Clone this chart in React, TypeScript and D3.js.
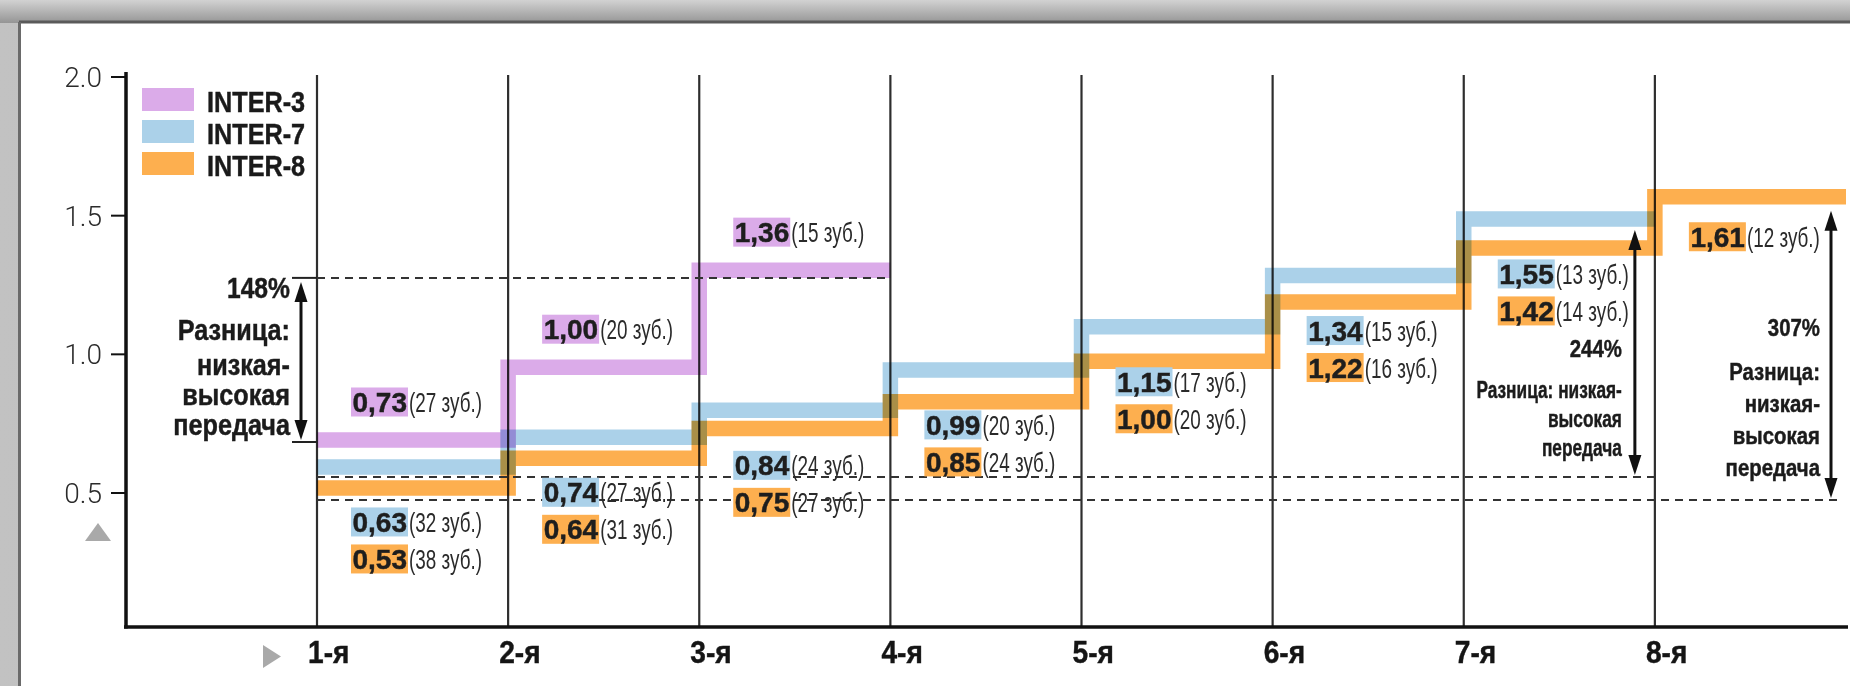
import React from "react";
import * as d3 from "d3";

// ---- data ----
const gearLabels = ["1-я", "2-я", "3-я", "4-я", "5-я", "6-я", "7-я", "8-я"];
const seriesNames = ["INTER-3", "INTER-7", "INTER-8"];
const inter3 = [0.73, 1.0, 1.36];
const inter3Teeth = [27, 20, 15];
const inter7 = [0.63, 0.74, 0.84, 0.99, 1.15, 1.34, 1.55];
const inter7Teeth = [32, 27, 24, 20, 17, 15, 13];
const inter8 = [0.53, 0.64, 0.75, 0.85, 1.0, 1.22, 1.42, 1.61];
const inter8Teeth = [38, 31, 27, 24, 20, 16, 14, 12];
const yTicks = [0.5, 1.0, 1.5, 2.0];
const spreadLabels = ["148%", "244%", "307%"];

const W = 1850;
const H = 686;
const FONT = "'Liberation Sans', Arial, Helvetica, sans-serif";
const COLORS = ["#dbabe9", "#abd1e9", "#fdaf4f"];

function T({ x, y, sx = 1, size, weight = 700, anchor = "start", fill = "#1b1b1b", family = FONT, children }: any) {
  const bold = weight >= 700;
  return (
    <text
      transform={`translate(${x},${y}) scale(${sx},1)`}
      fontFamily={family}
      fontSize={size}
      fontWeight={weight}
      textAnchor={anchor}
      fill={fill}
      stroke={bold ? fill : "none"}
      strokeWidth={bold ? 0.45 : 0}
    >
      {children}
    </text>
  );
}

function Arrow({ x, y1, y2 }: any) {
  const hw = 6.5;
  const hh = 20;
  return (
    <g>
      <line x1={x} x2={x} y1={y1 + hh - 2} y2={y2 - hh + 2} stroke="#111" strokeWidth={3} />
      <polygon points={`${x},${y1} ${x - hw},${y1 + hh} ${x + hw},${y1 + hh}`} fill="#111" />
      <polygon points={`${x},${y2} ${x - hw},${y2 - hh} ${x + hw},${y2 - hh}`} fill="#111" />
    </g>
  );
}

const fmt = (v: number) => d3.format(".2f")(v).replace(".", ",");

function ValueLabel({ x0, cy, value, teeth, color }: any) {
  const numW = 57;
  return (
    <g>
      <rect x={x0} y={cy - 14.5} width={numW} height={29} fill={color} />
      <T x={x0 + 1.5} y={cy + 10} size={28} fill="#1e1e1e">{fmt(value)}</T>
      <T x={x0 + numW + 1} y={cy + 10} size={27} weight={400} sx={0.7} fill="#2a2a2a">{`(${teeth} зуб.)`}</T>
    </g>
  );
}

export default function App() {
  const x = d3.scaleLinear().domain([1, 9]).range([317, 1846]);
  const yAxis = d3.scaleLinear().domain([0.5, 2]).range([493, 77]);
  const yBand = d3.scaleLinear().domain([0.5, 1.5]).range([502, 232.4]);
  const ORANGE_DY = -6;
  const BAND = 15.5;

  const series = [
    { name: seriesNames[0], vals: inter3, teeth: inter3Teeth, color: COLORS[0], dy: 0 },
    { name: seriesNames[1], vals: inter7, teeth: inter7Teeth, color: COLORS[1], dy: 0 },
    { name: seriesNames[2], vals: inter8, teeth: inter8Teeth, color: COLORS[2], dy: ORANGE_DY },
  ];

  const line = d3.line<[number, number]>().curve(d3.curveStepAfter);
  const stepPath = (vals: number[], dy: number) => {
    const pts: [number, number][] = vals.map((v, i) => [x(i + 1), yBand(v) + dy]);
    pts.push([x(vals.length + 1), yBand(vals[vals.length - 1]) + dy]);
    return line(pts) || "";
  };

  const axisX = 126;
  const axisY = 627;
  const gridTop = 75;

  const purpleDash = yBand(inter3[inter3.length - 1]) + BAND / 2;
  const upperDash = yBand(inter7[0]) + 10;
  const lowerDash = yBand(inter8[0]) + 6;

  // label positions
  const purpleY = (i: number) => yBand(inter3[i]) - 38;
  const blueY = (i: number) => yBand(inter7[i]) + 55;
  const orangeY = (i: number) => (i < inter7.length ? blueY(i) + 37 : yBand(inter8[i]) + ORANGE_DY + 40);

  const lx = x(1) - 27;
  const ax1 = x(1) - 16;
  const rx2 = x(8) - 33;
  const ax2 = x(8) - 20;
  const rx3 = x(9) - 26;
  const ax3 = x(9) - 15;

  return (
    <svg width={W} height={H} style={{ position: "absolute", left: 0, top: 0 }}>
      <defs>
        <linearGradient id="topg" x1="0" y1="0" x2="0" y2="1">
          <stop offset="0" stopColor="#d2d2d2" />
          <stop offset="1" stopColor="#959595" />
        </linearGradient>
        <linearGradient id="leftg" x1="0" y1="0" x2="1" y2="0">
          <stop offset="0" stopColor="#c2c2c2" />
          <stop offset="1" stopColor="#a2a2a2" />
        </linearGradient>
      </defs>
      {/* frame */}
      <rect x={0} y={0} width={W} height={H} fill="url(#leftg)" />
      <rect x={0} y={0} width={W} height={23} fill="url(#topg)" />
      <rect x={20} y={23} width={W - 20} height={H - 23} fill="#ffffff" />
      <line x1={19} x2={W} y1={22} y2={22} stroke="#5a5a5a" strokeWidth={3} />
      <line x1={19.5} x2={19.5} y1={22} y2={H} stroke="#6a6a6a" strokeWidth={3} />

      {/* gear lines */}
      {gearLabels.map((g, i) => (
        <line key={g} x1={x(i + 1)} x2={x(i + 1)} y1={gridTop} y2={axisY} stroke="#2e2e2e" strokeWidth={2.2} />
      ))}

      {/* axes */}
      <line x1={axisX} x2={axisX} y1={72} y2={axisY + 1.5} stroke="#111" strokeWidth={3.5} />
      <line x1={axisX - 2} x2={1848} y1={axisY} y2={axisY} stroke="#111" strokeWidth={3.5} />
      {yTicks.map((t) => (
        <g key={t}>
          <line x1={111} x2={axisX} y1={yAxis(t)} y2={yAxis(t)} stroke="#111" strokeWidth={2} />
          <T x={102} y={yAxis(t) + 10} size={28} weight={300} anchor="end" fill="#2b2b2b" family="Roboto, 'Liberation Sans', sans-serif">
            {d3.format(".1f")(t)}
          </T>
        </g>
      ))}
      {gearLabels.map((g, i) => (
        <T key={g} x={x(i + 1) - 9} y={663} size={32} sx={0.88} fill="#151515">{g}</T>
      ))}
      <polygon points="85,541 111,541 98,523" fill="#a9a9a9" />
      <polygon points="263,645 263,668 281,656.5" fill="#a9a9a9" />

      {/* bands */}
      {series.map((s) => (
        <path
          key={s.name}
          d={stepPath(s.vals, s.dy)}
          fill="none"
          stroke={s.color}
          strokeWidth={BAND}
          strokeLinejoin="miter"
          strokeLinecap="butt"
          style={{ mixBlendMode: "multiply" }}
        />
      ))}

      {/* dashed reference lines */}
      <line x1={x(1) - 25} x2={x(1)} y1={purpleDash} y2={purpleDash} stroke="#222" strokeWidth={2} />
      <line x1={x(1)} x2={x(4)} y1={purpleDash} y2={purpleDash} stroke="#333" strokeWidth={2} strokeDasharray="8 6" />
      <line x1={x(1)} x2={x(8)} y1={upperDash} y2={upperDash} stroke="#333" strokeWidth={2} strokeDasharray="8 6" />
      <line x1={x(1)} x2={x(9) - 8} y1={lowerDash} y2={lowerDash} stroke="#333" strokeWidth={2} strokeDasharray="8 6" />
      <line x1={x(1) - 25} x2={x(1)} y1={yBand(inter3[0]) + 2} y2={yBand(inter3[0]) + 2} stroke="#222" strokeWidth={2} />

      {/* arrows */}
      <Arrow x={ax1} y1={purpleDash + 4} y2={yBand(inter3[0])} />
      <Arrow x={ax2} y1={yBand(inter7[inter7.length - 1]) + 11} y2={upperDash - 2} />
      <Arrow x={ax3} y1={yBand(inter8[inter8.length - 1]) + ORANGE_DY + 14} y2={lowerDash - 2} />

      {/* legend */}
      {series.map((s, i) => (
        <g key={s.name}>
          <rect x={142} y={88 + i * 32} width={52} height={23} fill={s.color} />
          <T x={207} y={112 + i * 32} size={29} sx={0.87} fill="#1a1a1a">{s.name}</T>
        </g>
      ))}

      {/* value labels */}
      {inter3.map((v, i) => (
        <ValueLabel key={"p" + i} x0={x(i + 1) + 34} cy={purpleY(i)} value={v} teeth={inter3Teeth[i]} color={COLORS[0]} />
      ))}
      {inter7.map((v, i) => (
        <ValueLabel key={"b" + i} x0={x(i + 1) + 34} cy={blueY(i)} value={v} teeth={inter7Teeth[i]} color={COLORS[1]} />
      ))}
      {inter8.map((v, i) => (
        <ValueLabel key={"o" + i} x0={x(i + 1) + 34} cy={orangeY(i)} value={v} teeth={inter8Teeth[i]} color={COLORS[2]} />
      ))}

      {/* annotation: left */}
      <T x={lx} y={298} size={29} sx={0.85} anchor="end">{spreadLabels[0]}</T>
      <T x={lx} y={340} size={29} sx={0.87} anchor="end">Разница:</T>
      <T x={lx} y={375} size={29} sx={0.87} anchor="end">низкая-</T>
      <T x={lx} y={405} size={29} sx={0.87} anchor="end">высокая</T>
      <T x={lx} y={435} size={29} sx={0.87} anchor="end">передача</T>

      {/* annotation: 244% */}
      <T x={rx2} y={357} size={24} sx={0.85} anchor="end">{spreadLabels[1]}</T>
      <T x={rx2} y={398} size={24} sx={0.72} anchor="end">Разница: низкая-</T>
      <T x={rx2} y={427} size={24} sx={0.72} anchor="end">высокая</T>
      <T x={rx2} y={456} size={24} sx={0.72} anchor="end">передача</T>

      {/* annotation: 307% */}
      <T x={rx3} y={336} size={24} sx={0.85} anchor="end">{spreadLabels[2]}</T>
      <T x={rx3} y={380} size={24} sx={0.85} anchor="end">Разница:</T>
      <T x={rx3} y={412} size={24} sx={0.85} anchor="end">низкая-</T>
      <T x={rx3} y={444} size={24} sx={0.85} anchor="end">высокая</T>
      <T x={rx3} y={476} size={24} sx={0.85} anchor="end">передача</T>
    </svg>
  );
}
